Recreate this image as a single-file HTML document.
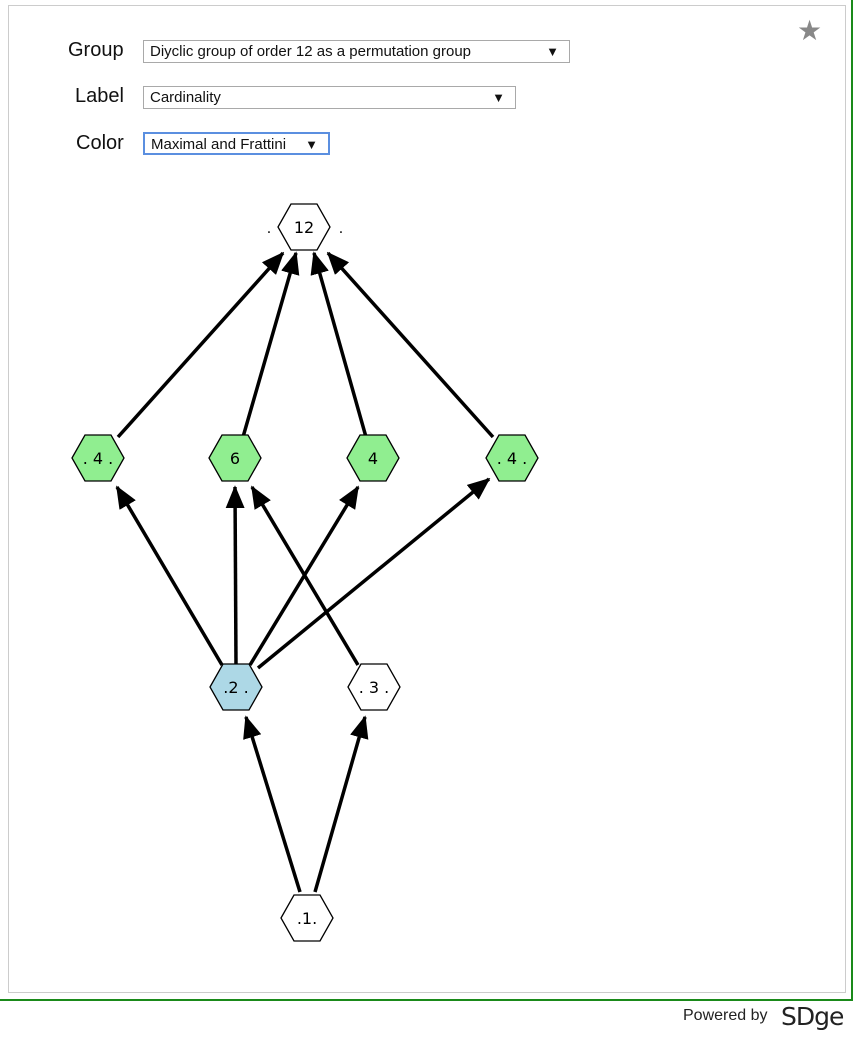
<!DOCTYPE html>
<html><head><style>
body{margin:0;width:855px;height:1038px;background:#fff;font-family:"Liberation Sans",sans-serif;position:relative;overflow:hidden}
.green{position:absolute;left:0;top:-2px;width:851px;height:1001px;border-right:2px solid #1a8a1a;border-bottom:2px solid #1a8a1a}
.box{position:absolute;left:8px;top:5px;width:836px;height:986px;border:1px solid #ccc}
.lbl{position:absolute;font-size:20px;color:#111}
.sel{position:absolute;height:21px;border:1px solid #a9a9a9;font-size:15px;line-height:21px;padding-left:6px;box-sizing:border-box;color:#111;background:#fff}
.sel span{position:absolute;right:10px;top:0;font-size:13px}
</style></head><body>
<div class="green"></div>
<div class="box"></div>
<div style="position:absolute;left:797px;top:14px;font-size:28px;color:#888">★</div>
<div class="lbl" style="left:68px;top:39px">Group</div>
<div class="sel" style="left:143px;top:40px;width:427px;height:23px">Diyclic group of order 12 as a permutation group<span>▼</span></div>
<div class="lbl" style="left:75px;top:85px">Label</div>
<div class="sel" style="left:143px;top:86px;width:373px;height:23px">Cardinality<span>▼</span></div>
<div class="lbl" style="left:76px;top:132px">Color</div>
<div class="sel" style="left:143px;top:132px;width:187px;height:23px;border:2px solid #5b8fe0">Maximal and Frattini<span>▼</span></div>
<div style="position:absolute;left:683px;top:1007px;font-size:16px;color:#222">Powered by</div>
<div style="position:absolute;left:781px;top:1002px;font-size:25px;color:#222;letter-spacing:-1px;font-family:'DejaVu Sans',sans-serif">SDge</div>
<svg width="855" height="1038" style="position:absolute;left:0;top:0" font-family="DejaVu Sans,sans-serif">
<defs><marker id="a" markerWidth="6.5" markerHeight="5.4" refX="6" refY="2.7" orient="auto" markerUnits="strokeWidth"><path d="M0,0L6.5,2.7L0,5.4z" fill="#000"/></marker></defs>
<g stroke="#000" stroke-width="3.5" marker-end="url(#a)">
<line x1="118" y1="437" x2="283" y2="253"/>
<line x1="243" y1="437" x2="296" y2="253"/>
<line x1="366" y1="437" x2="314" y2="253"/>
<line x1="493" y1="437" x2="328" y2="253"/>
<line x1="222" y1="665" x2="117" y2="487"/>
<line x1="236" y1="665" x2="235" y2="487"/>
<line x1="250" y1="665" x2="358" y2="487"/>
<line x1="258" y1="668" x2="489" y2="479"/>
<line x1="358" y1="665" x2="252" y2="487"/>
<line x1="300" y1="892" x2="246" y2="717"/>
<line x1="315" y1="892" x2="365" y2="717"/>
</g>
<g stroke="#000" stroke-width="1.3" font-size="16" text-anchor="middle">
<g transform="translate(304,227)"><path d="M-26,0L-13,-23L13,-23L26,0L13,23L-13,23z" fill="#fff"/><text y="6" stroke="none">12</text><text x="-35" y="6" stroke="none" font-size="14">.</text><text x="37" y="6" stroke="none" font-size="14">.</text></g>
<g transform="translate(98,458)"><path d="M-26,0L-13,-23L13,-23L26,0L13,23L-13,23z" fill="#90ee90"/><text y="6" stroke="none">. 4 .</text></g>
<g transform="translate(235,458)"><path d="M-26,0L-13,-23L13,-23L26,0L13,23L-13,23z" fill="#90ee90"/><text y="6" stroke="none">6</text></g>
<g transform="translate(373,458)"><path d="M-26,0L-13,-23L13,-23L26,0L13,23L-13,23z" fill="#90ee90"/><text y="6" stroke="none">4</text></g>
<g transform="translate(512,458)"><path d="M-26,0L-13,-23L13,-23L26,0L13,23L-13,23z" fill="#90ee90"/><text y="6" stroke="none">. 4 .</text></g>
<g transform="translate(236,687)"><path d="M-26,0L-13,-23L13,-23L26,0L13,23L-13,23z" fill="#add8e6"/><text y="6" stroke="none">.2 .</text></g>
<g transform="translate(374,687)"><path d="M-26,0L-13,-23L13,-23L26,0L13,23L-13,23z" fill="#fff"/><text y="6" stroke="none">. 3 .</text></g>
<g transform="translate(307,918)"><path d="M-26,0L-13,-23L13,-23L26,0L13,23L-13,23z" fill="#fff"/><text y="6" stroke="none">.1.</text></g>
</g>
</svg>
</body></html>
